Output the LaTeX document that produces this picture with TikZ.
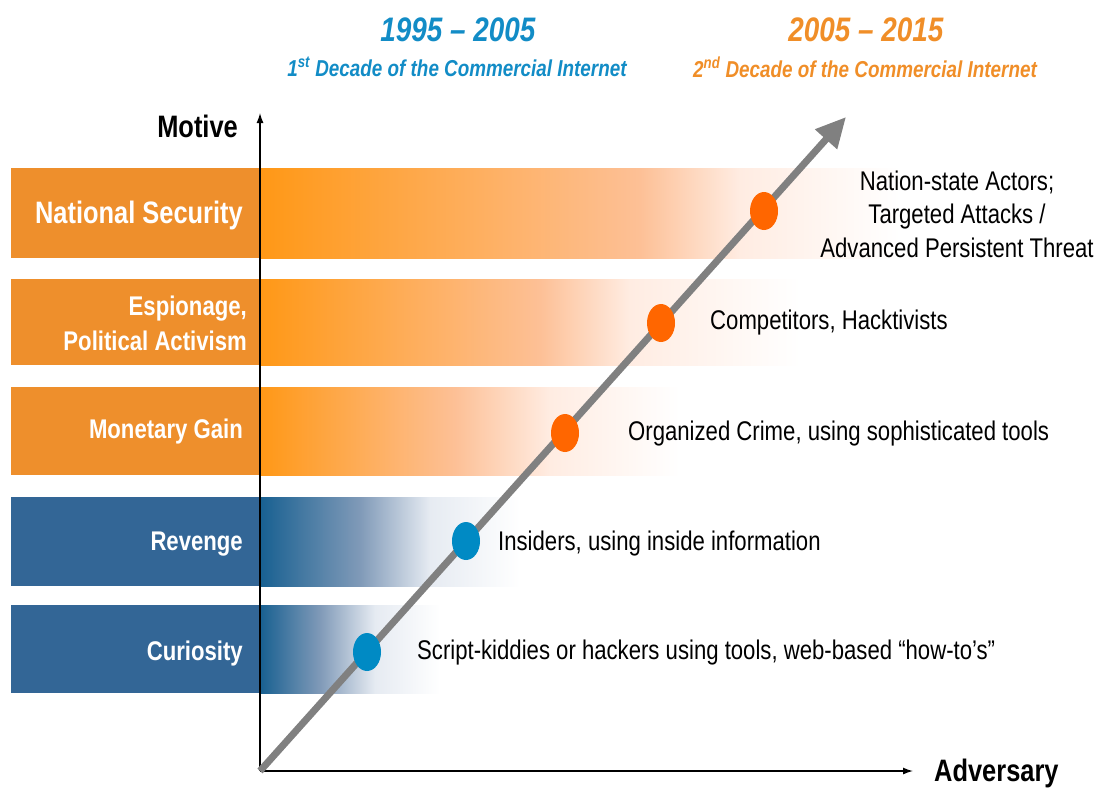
\documentclass[tikz,border=0pt]{standalone}
\usepackage{fontspec}
\setmainfont[FakeStretch=0.82]{Liberation Sans}
\usetikzlibrary{arrows.meta,shapes.geometric,positioning}
\definecolor{boxorange}{RGB}{238,143,44}
\definecolor{fadeorange}{RGB}{255,152,22}
\definecolor{midorange}{RGB}{253,192,150}
\definecolor{loworange}{RGB}{255,236,226}
\definecolor{boxblue}{RGB}{51,102,150}
\definecolor{fadeblue}{RGB}{24,96,145}
\definecolor{midblue}{RGB}{128,154,184}
\definecolor{lowblue}{RGB}{230,235,242}
\definecolor{cblue}{RGB}{0,138,196}
\definecolor{corange}{RGB}{255,102,0}
\definecolor{headblue}{RGB}{18,140,198}
\definecolor{headorange}{RGB}{240,142,40}
\tikzset{
  motive/.style={anchor=east,text=white,align=right,inner sep=0pt,font=\bfseries\fontsize{27}{35}\selectfont},
  actor/.style={anchor=west,align=center,inner sep=0pt,font=\fontsize{27}{33.5}\selectfont},
  axislabel/.style={inner sep=0pt,font=\bfseries\fontsize{31}{36}\selectfont},
  ball/.style={ellipse,minimum width=28pt,minimum height=38pt,inner sep=0pt},
  years/.style={inner sep=0pt,font=\bfseries\itshape\fontsize{34}{40}\selectfont},
  decade/.style={inner sep=0pt,font=\bfseries\itshape\fontsize{23}{28}\selectfont}
}
\begin{document}
\begin{tikzpicture}[x=1pt,y=-1pt]
        \useasboundingbox (0,0) rectangle (1099,788);
        % motive bars
        \foreach \yt/\yb/\cbox/\ca/\cb/\cc/\xa/\xb/\xc in {168/258/boxorange/fadeorange/midorange/loworange/640/740/900, 279/365/boxorange/fadeorange/midorange/loworange/540/630/800, 387/475/boxorange/fadeorange/midorange/loworange/455/550/680, 497/586/boxblue/fadeblue/midblue/lowblue/360/430/520, 605/693/boxblue/fadeblue/midblue/lowblue/320/375/440}{
          \fill[\cbox] (11,\yt) rectangle (259,\yb);
          \shade[left color=\ca, right color=\cb] (260,\yt) rectangle (\xa,\yb);
          \shade[left color=\cb, right color=\cc] (\xa,\yt) rectangle (\xb,\yb);
          \shade[left color=\cc, right color=white] (\xb,\yt) rectangle (\xc,\yb);
        }
        \node[motive,font=\bfseries\fontsize{31}{36}\selectfont] (natsec) at (243,215) {National Security};
        \node[motive] (espionage) at (247,323) {Espionage,\\Political Activism};
        \node[motive] (money) at (243,432) {Monetary Gain};
        \node[motive] (revenge) at (243,544) {Revenge};
        \node[motive] (curiosity) at (243,654) {Curiosity};
        % axes
        \coordinate (o) at (260,771);
        \coordinate (ytip) at (260,113);
        \coordinate (xtip) at (913,771);
        \coordinate (dtip) at (846,117);
        \draw[line width=1.3pt,-{Latex[length=10pt,width=7pt]}] (o) -- (ytip);
        \draw[line width=1.3pt,-{Latex[length=10pt,width=7pt]}] (o) -- (xtip);
        \node[axislabel,anchor=east] (motivelbl) at (238,126) {Motive};
        \node[axislabel,anchor=west] (advlbl) at (934,773) {Adversary};
        \draw[gray,line width=7pt,-{Triangle[length=30pt,width=28pt]}] (o) -- (dtip);
        % adversaries
        \node[ball,fill=cblue] (d1) at (367,652) {};
        \node[ball,fill=cblue] (d2) at (466,541) {};
        \node[ball,fill=corange] (d3) at (565,433) {};
        \node[ball,fill=corange] (d4) at (661,323) {};
        \node[ball,fill=corange] (d5) at (764,211) {};
        \node[actor] (a1) at (417,653) {Script-kiddies or hackers using tools, web-based “how-to’s”};
        \node[actor] (a2) at (498,544) {Insiders, using inside information};
        \node[actor] (a3) at (628,434) {Organized Crime, using sophisticated tools};
        \node[actor] (a4) at (710,323) {Competitors, Hacktivists};
        \node[actor,anchor=center] (a5) at (957,214) {Nation-state Actors;\\Targeted Attacks /\\Advanced Persistent Threat};
        % decades
        \node[years,text=headblue] (y1) at (458,30) {1995 – 2005};
        \node[decade,text=headblue] (dec1) at (457,67) {1\textsuperscript{st} Decade of the Commercial Internet};
        \node[years,text=headorange] (y2) at (866,30) {2005 – 2015};
        \node[decade,text=headorange] (dec2) at (865,67) {2\textsuperscript{nd} Decade of the Commercial Internet};
\end{tikzpicture}
\end{document}
